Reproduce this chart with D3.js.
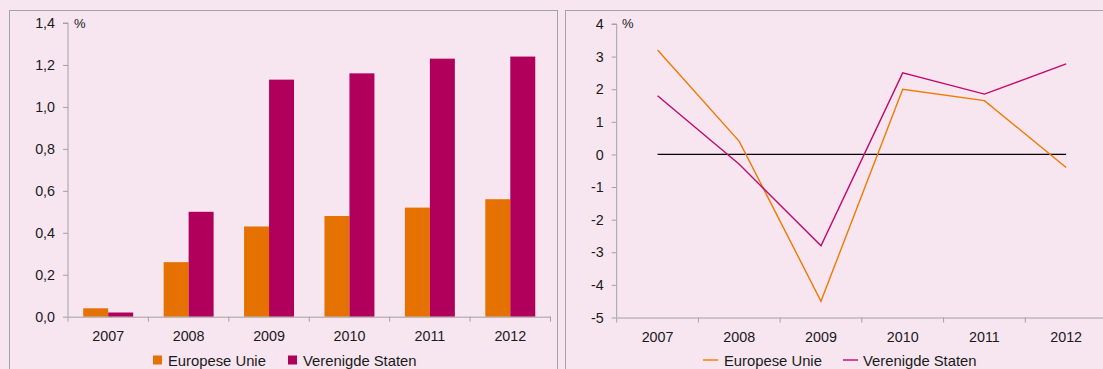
<!DOCTYPE html>
<html>
<head>
<meta charset="utf-8">
<script src="https://cdn.jsdelivr.net/npm/d3@7.9.0/dist/d3.min.js"></script>
<style>
  body { margin: 0; background: #f7e5f0; }
  svg { display: block; font-family: "Liberation Sans", Arial, sans-serif; }
</style>
</head>
<body>
<svg id="chart" width="1103" height="369"></svg>
<script>
// data
const years = ['2007', '2008', '2009', '2010', '2011', '2012'];
const series = ['Europese Unie', 'Verenigde Staten'];
const barEU = [0.04, 0.26, 0.43, 0.48, 0.52, 0.56];
const barUS = [0.02, 0.50, 1.13, 1.16, 1.23, 1.24];
const lineEU = [3.2, 0.4, -4.5, 2.0, 1.65, -0.4];
const lineUS = [1.8, -0.3, -2.8, 2.5, 1.85, 2.78];
const barTicks = [0, 0.2, 0.4, 0.6, 0.8, 1.0, 1.2, 1.4];
const lineTicks = [-5, -4, -3, -2, -1, 0, 1, 2, 3, 4];

const barColors = ['#e57200', '#b0005c'];
const lineColors = ['#f07a00', '#c00a6c'];
const axisColor = '#a3a3a3';
const fmt = d => d3.format('.1f')(d).replace('.', ',');

const svg = d3.select('#chart');

// panel frames
svg.append('rect').attr('x', 9.5).attr('y', 10.5).attr('width', 548).attr('height', 380)
  .attr('fill', '#f7e5f0').attr('stroke', axisColor);
svg.append('rect').attr('x', 565.5).attr('y', 10.5).attr('width', 560).attr('height', 380)
  .attr('fill', '#f7e5f0').attr('stroke', axisColor);

function styleAxis(g) {
  g.selectAll('path, line').attr('stroke', axisColor);
  g.selectAll('text').attr('fill', '#1a1a1a').style('font-size', '14.3px');
}

// left: bar chart
const xb = d3.scaleBand().domain(years).range([68, 550.5]);
const yb = d3.scaleLinear().domain([0, 1.4]).range([316.7, 23]);
const inner = d3.scaleBand().domain(series).range([0, xb.bandwidth()]).paddingOuter(0.61).paddingInner(0);

svg.append('g').attr('transform', 'translate(68,0)')
  .call(d3.axisLeft(yb).tickValues(barTicks).tickFormat(fmt).tickSize(5).tickPadding(8))
  .call(g => g.select('.domain').attr('d', `M-5,${yb(1.4)}H0V${yb(0)}`))
  .call(styleAxis);

const barData = [barEU, barUS];
years.forEach((yr, i) => {
  series.forEach((s, j) => {
    svg.append('rect')
      .attr('x', xb(yr) + inner(s))
      .attr('y', yb(barData[j][i]))
      .attr('width', inner.bandwidth())
      .attr('height', yb(0) - yb(barData[j][i]))
      .attr('fill', barColors[j]);
  });
});

const xbAxis = svg.append('g').attr('transform', `translate(0,${yb(0)})`)
  .call(d3.axisBottom(xb).tickSize(0).tickPadding(14))
  .call(styleAxis);
xbAxis.selectAll('.tick line').remove();
xbAxis.selectAll('.tickmark').data(years.concat(['end'])).join('line')
  .attr('x1', (d, i) => i < years.length ? xb(d) : xb.range()[1])
  .attr('x2', (d, i) => i < years.length ? xb(d) : xb.range()[1])
  .attr('y1', 0).attr('y2', 5).attr('stroke', axisColor);

svg.append('text').attr('x', 74).attr('y', 28).text('%').style('font-size', '13px').attr('fill', '#1a1a1a');

// left legend
const legB = [[153, 168], [288, 303]];
series.forEach((s, j) => {
  svg.append('rect').attr('x', legB[j][0]).attr('y', 355.5).attr('width', 9).attr('height', 9).attr('fill', barColors[j]);
  svg.append('text').attr('x', legB[j][1]).attr('y', 365.5).text(s).style('font-size', '14.8px').attr('fill', '#1a1a1a');
});

// right: line chart
const xl = d3.scaleBand().domain(years).range([616.7, 1107]);
const yl = d3.scaleLinear().domain([-5, 4]).range([317.5, 24]);

svg.append('g').attr('transform', 'translate(616.7,0)')
  .call(d3.axisLeft(yl).tickValues(lineTicks).tickFormat(d => String(d)).tickSize(5).tickPadding(8))
  .call(g => g.select('.domain').attr('d', `M-5,${yl(4)}H0V${yl(-5)}`))
  .call(styleAxis);

const xlAxis = svg.append('g').attr('transform', `translate(0,${yl(-5)})`)
  .call(d3.axisBottom(xl).tickSize(0).tickPadding(14))
  .call(styleAxis);
xlAxis.selectAll('.tick line').remove();
xlAxis.selectAll('.tickmark').data(years).join('line')
  .attr('x1', d => xl(d)).attr('x2', d => xl(d))
  .attr('y1', 0).attr('y2', 5).attr('stroke', axisColor);

const cx = d => xl(d) + xl.bandwidth() / 2;
svg.append('line').attr('x1', cx(years[0])).attr('x2', cx(years[5]))
  .attr('y1', yl(0)).attr('y2', yl(0)).attr('stroke', '#000').attr('stroke-width', 1.2);

const line = d3.line().x((d, i) => cx(years[i])).y(d => yl(d));
[lineEU, lineUS].forEach((vals, j) => {
  svg.append('path').attr('d', line(vals)).attr('fill', 'none')
    .attr('stroke', lineColors[j]).attr('stroke-width', 1.4);
});

svg.append('text').attr('x', 622).attr('y', 28).text('%').style('font-size', '13px').attr('fill', '#1a1a1a');

const legL = [[703, 724], [843, 863]];
series.forEach((s, j) => {
  svg.append('line').attr('x1', legL[j][0]).attr('x2', legL[j][0] + 15)
    .attr('y1', 360).attr('y2', 360).attr('stroke', lineColors[j]).attr('stroke-width', 1.4);
  svg.append('text').attr('x', legL[j][1]).attr('y', 365.5).text(s).style('font-size', '14.8px').attr('fill', '#1a1a1a');
});
</script>
</body>
</html>
